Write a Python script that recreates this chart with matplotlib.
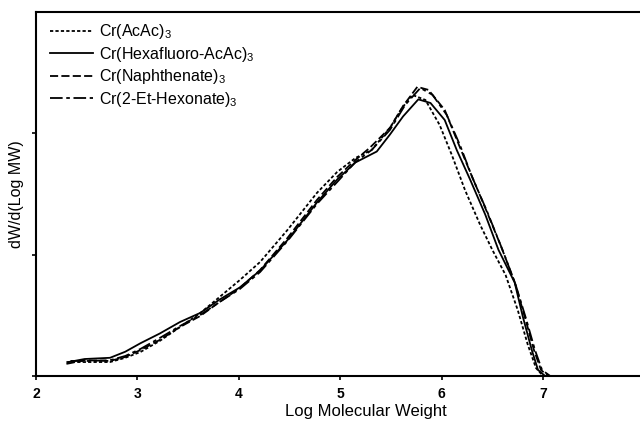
import matplotlib
matplotlib.use("Agg")
import matplotlib.pyplot as plt

plt.rcParams["font.family"] = ["Liberation Sans", "DejaVu Sans"]
plt.rcParams["mathtext.default"] = "regular"

# Cr(AcAc)3 - dotted
acac_x = [2.30, 2.48, 2.73, 2.88, 3.03, 3.22, 3.42, 3.62, 3.81, 4.01, 4.21, 4.48, 4.77, 4.97, 5.15,
          5.31, 5.49, 5.61, 5.71, 5.84, 5.98, 6.10, 6.23, 6.38, 6.50, 6.63, 6.75, 6.85, 6.93, 7.00]
acac_y = [0.115, 0.115, 0.115, 0.15, 0.198, 0.289, 0.404, 0.519, 0.651, 0.791, 0.94, 1.204, 1.509, 1.682, 1.797,
          1.863, 2.045, 2.209, 2.317, 2.275, 2.069, 1.822, 1.533, 1.245, 1.039, 0.833, 0.544, 0.256, 0.066, 0.0]

# Cr(Hexafluoro-AcAc)3 - solid
hexa_x = [2.32, 2.48, 2.73, 2.88, 3.03, 3.22, 3.42, 3.62, 3.81, 4.01, 4.21, 4.48, 4.77, 4.97, 5.15,
          5.36, 5.49, 5.62, 5.77, 5.89, 6.03, 6.15, 6.28, 6.43, 6.56, 6.72, 6.80, 6.89, 6.95, 7.02]
hexa_y = [0.115, 0.14, 0.15, 0.20, 0.27, 0.35, 0.445, 0.52, 0.63, 0.73, 0.87, 1.12, 1.43, 1.62, 1.76,
          1.85, 1.99, 2.14, 2.28, 2.25, 2.11, 1.86, 1.62, 1.33, 1.04, 0.77, 0.49, 0.21, 0.05, 0.0]

# Cr(Naphthenate)3 - dashed
naph_x = [2.30, 2.48, 2.73, 2.88, 3.03, 3.22, 3.42, 3.62, 3.81, 4.01, 4.21, 4.48, 4.77, 4.97, 5.15,
          5.29, 5.49, 5.62, 5.76, 5.87, 6.03, 6.15, 6.28, 6.43, 6.58, 6.72, 6.82, 6.91, 6.98, 7.05]
naph_y = [0.10, 0.13, 0.124, 0.157, 0.214, 0.297, 0.404, 0.495, 0.61, 0.725, 0.874, 1.138, 1.451, 1.641, 1.781,
          1.88, 2.045, 2.226, 2.383, 2.358, 2.193, 1.946, 1.682, 1.385, 1.08, 0.775, 0.486, 0.214, 0.049, 0.0]

# Cr(2-Et-Hexonate)3 - dash-dot
ethx_x = [2.34, 2.53, 2.73, 2.88, 3.03, 3.22, 3.42, 3.62, 3.81, 4.01, 4.21, 4.48, 4.77, 4.97, 5.15,
          5.31, 5.49, 5.64, 5.79, 5.91, 6.05, 6.18, 6.30, 6.45, 6.60, 6.73, 6.83, 6.92, 6.99, 7.07]
ethx_y = [0.124, 0.124, 0.13, 0.165, 0.223, 0.313, 0.412, 0.503, 0.61, 0.717, 0.857, 1.113, 1.418, 1.599, 1.764,
          1.863, 2.028, 2.234, 2.374, 2.317, 2.152, 1.904, 1.641, 1.352, 1.039, 0.75, 0.478, 0.214, 0.049, 0.0]

labels = ["Cr(AcAc)$_3$", "Cr(Hexafluoro-AcAc)$_3$", "Cr(Naphthenate)$_3$", "Cr(2-Et-Hexonate)$_3$"]
x_ticks = [2, 3, 4, 5, 6, 7, 8]
y_ticks = [0, 1, 2]

fig = plt.figure(figsize=(6.4, 4.21), dpi=100)
ax = fig.add_axes([0.05625, 0.1069, 1.03, 0.8646])

ax.plot(acac_x, acac_y, color="black", lw=1.3, ls=(0, (1.8, 1.2)), label=labels[0])
ax.plot(hexa_x, hexa_y, color="black", lw=1.3, ls="-", label=labels[1])
ax.plot(naph_x, naph_y, color="black", lw=1.3, ls=(0, (4.5, 1.8)), label=labels[2])
ax.plot(ethx_x, ethx_y, color="black", lw=1.3, ls=(0, (7, 2, 2, 2)), label=labels[3])

ax.set_xlim(2, 8.5)
ax.set_ylim(0, 3)
ax.set_xticks(x_ticks)
ax.set_xticklabels([str(t) for t in x_ticks], fontweight="bold", fontsize=10)
ax.set_yticks(y_ticks)
ax.set_yticklabels([])
ax.tick_params(direction="out", length=3, width=1.2, pad=5)

for side in ["left", "bottom", "top", "right"]:
    ax.spines[side].set_linewidth(1.5)

ax.set_xlabel("Log Molecular Weight", fontsize=12, labelpad=2)
ax.set_ylabel("dW/d(Log MW)", fontsize=11.5)
ax.yaxis.set_label_coords(-0.018, 0.5)

ax.legend(loc="upper left", bbox_to_anchor=(0.068, 0.962), bbox_transform=fig.transFigure,
          frameon=False, fontsize=11.5, handlelength=2.7, handletextpad=0.4,
          labelspacing=0.22, borderaxespad=0)

fig.savefig("out.png", dpi=100)
